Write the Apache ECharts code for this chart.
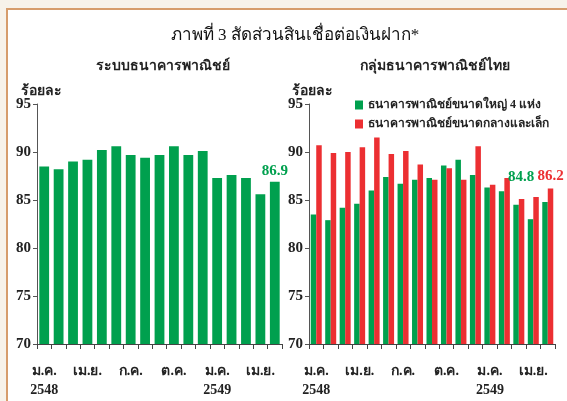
<!DOCTYPE html>
<html>
<head>
<meta charset="utf-8">
<script src="https://cdn.jsdelivr.net/npm/echarts@6/dist/echarts.min.js"></script>
<style>
    html, body { margin: 0; padding: 0; background: #f7f2ea; }
    #frame {
        position: absolute; left: 6px; top: 8px; width: 600px; height: 420px;
        background: #ffffff; border-top: 2px solid #d69c6c; border-left: 2px solid #d69c6c;
    }
    #chart { position: absolute; left: 0; top: 0; width: 567px; height: 401px; }
</style>
</head>
<body>
<div id="frame"></div>
<div id="chart"></div>
<script>
// Jan 2548 .. May 2549, monthly
const months = ['ม.ค.\n2548', '', '', 'เม.ย.', '', '', 'ก.ค.', '', '', 'ต.ค.', '', '',
    'ม.ค.\n2549', '', '', 'เม.ย.', ''];
const allBanks = [88.5, 88.2, 89.0, 89.2, 90.2, 90.6, 89.7, 89.4, 89.7, 90.6, 89.7, 90.1,
    87.3, 87.6, 87.3, 85.6, 86.9];
const bigFour = [83.5, 82.9, 84.2, 84.6, 86.0, 87.4, 86.7, 87.1, 87.3, 88.6, 89.2, 87.6,
    86.3, 85.9, 84.5, 83.0, 84.8];
const midSmall = [90.7, 89.9, 90.0, 90.5, 91.5, 89.8, 90.1, 88.7, 87.1, 88.3, 87.1, 90.6,
    86.6, 87.3, 85.1, 85.3, 86.2];
const legendNames = ['ธนาคารพาณิชย์ขนาดใหญ่ 4 แห่ง', 'ธนาคารพาณิชย์ขนาดกลางและเล็ก'];

const GREEN = '#00a04e';
const RED = '#ec2f32';
const SERIF = '"Liberation Serif", "DejaVu Serif", serif';

const chart = echarts.init(document.getElementById('chart'));

function xAxis(gridIndex) {
    return {
        type: 'category', gridIndex: gridIndex, data: months,
        axisLine: { lineStyle: { color: '#444', width: 1 } },
        axisTick: { show: true, interval: 0, length: 5, lineStyle: { color: '#444' } },
        axisLabel: {
            interval: 0, margin: 18, color: '#222', fontFamily: SERIF,
            fontWeight: 'bold', fontSize: 14, lineHeight: 19
        }
    };
}

function yAxis(gridIndex) {
    return {
        type: 'value', gridIndex: gridIndex, min: 70, max: 95, interval: 5,
        axisLine: { show: true, lineStyle: { color: '#555', width: 1 } },
        axisTick: { show: true, length: 4, lineStyle: { color: '#555' } },
        axisLabel: { color: '#222', fontFamily: SERIF, fontWeight: 'bold', fontSize: 15, margin: 6 },
        splitLine: { show: false }
    };
}

// label only on the last bar
function lastLabel(values, color, offset) {
    return values.map((v, i) => i === values.length - 1 ? {
        value: v,
        label: {
            show: true, position: 'top', offset: offset, color: color,
            fontFamily: SERIF, fontWeight: 'bold', fontSize: 15,
            formatter: (p) => p.value.toFixed(1)
        }
    } : v);
}

const option = {
    animation: false,
    backgroundColor: 'transparent',
    title: [
        {
            text: 'ภาพที่ 3 สัดส่วนสินเชื่อต่อเงินฝาก*', left: 290, top: 22, textAlign: 'center',
            textStyle: { fontFamily: SERIF, fontSize: 17, fontWeight: 'normal', color: '#111' }
        },
        {
            text: 'ระบบธนาคารพาณิชย์', left: 158, top: 54, textAlign: 'center',
            textStyle: { fontFamily: SERIF, fontSize: 14, fontWeight: 'bold', color: '#222' }
        },
        {
            text: 'กลุ่มธนาคารพาณิชย์ไทย', left: 430, top: 54, textAlign: 'center',
            textStyle: { fontFamily: SERIF, fontSize: 14, fontWeight: 'bold', color: '#222' }
        },
        {
            text: 'ร้อยละ', left: 16, top: 79,
            textStyle: { fontFamily: SERIF, fontSize: 14, fontWeight: 'bold', color: '#222' }
        },
        {
            text: 'ร้อยละ', left: 287, top: 79,
            textStyle: { fontFamily: SERIF, fontSize: 14, fontWeight: 'bold', color: '#222' }
        }
    ],
    legend: {
        left: 350, top: 94, orient: 'vertical', itemWidth: 8, itemHeight: 9, itemGap: 7,
        icon: 'rect', data: legendNames,
        textStyle: { fontFamily: SERIF, fontSize: 12, fontWeight: 'bold', color: '#222' }
    },
    grid: [
        { left: 37, right: 285, top: 104, bottom: 57 },
        { left: 309, right: 12, top: 104, bottom: 57 }
    ],
    xAxis: [xAxis(0), xAxis(1)],
    yAxis: [yAxis(0), yAxis(1)],
    series: [
        {
            name: 'ระบบธนาคารพาณิชย์', type: 'bar', xAxisIndex: 0, yAxisIndex: 0,
            data: lastLabel(allBanks, GREEN, [0, 2]), barWidth: '68%',
            itemStyle: { color: GREEN }
        },
        {
            name: legendNames[0], type: 'bar', xAxisIndex: 1, yAxisIndex: 1,
            data: lastLabel(bigFour, GREEN, [-24, -12]), barGap: '0%', barCategoryGap: '24%',
            itemStyle: { color: GREEN }
        },
        {
            name: legendNames[1], type: 'bar', xAxisIndex: 1, yAxisIndex: 1,
            data: lastLabel(midSmall, RED, [0, 0]), barGap: '0%', barCategoryGap: '24%',
            itemStyle: { color: RED }
        }
    ]
};

chart.setOption(option);
</script>
</body>
</html>
